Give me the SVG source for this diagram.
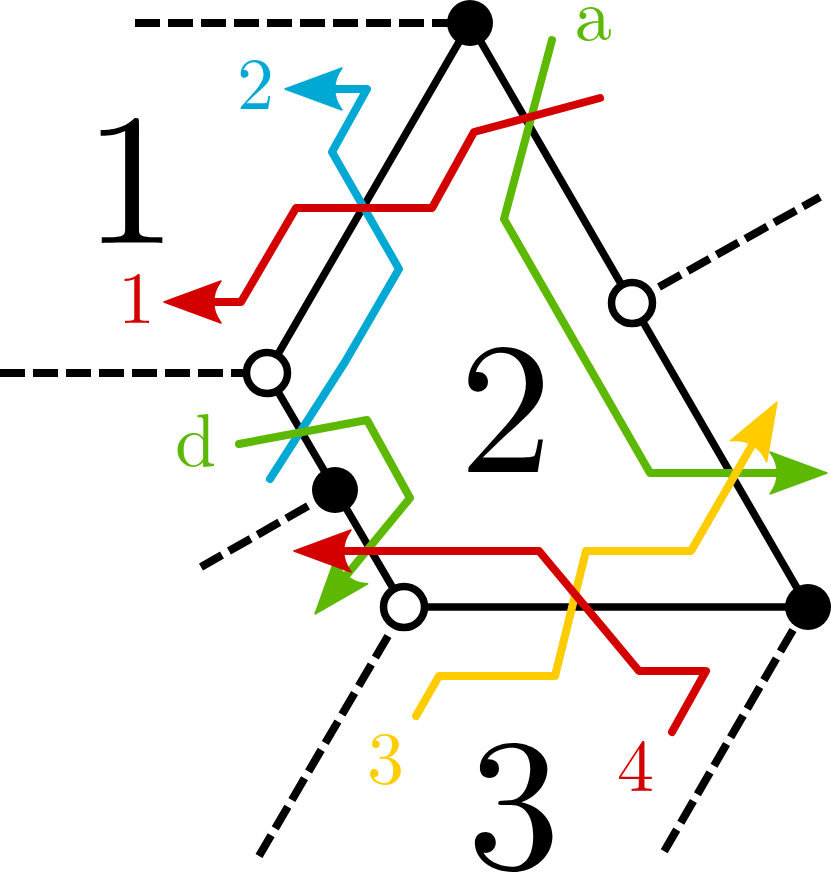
<svg xmlns="http://www.w3.org/2000/svg" width="831" height="872" viewBox="0 0 831 872">
<style>
.e{fill:none;stroke:#000;stroke-width:7.5}
.d{fill:none;stroke:#000;stroke-width:8;stroke-dasharray:25 8}
.p{fill:none;stroke-width:8;stroke-linejoin:round;stroke-linecap:round}
.o{fill:#fff;stroke:#000;stroke-width:7.5}
.b{fill:#000}
text{font-family:"Latin Modern Roman","Liberation Serif",serif}
.big{font-size:187px;fill:#000}
.sm{font-size:74px}
</style>
<defs>
<path id="h" d="M0 0L-57 -21Q-49 -10 -50 0Q-49 10 -57 21Z" stroke-width="1.5" stroke-linejoin="round"/>
</defs>
<rect width="831" height="872" fill="#fff"/>
<g id="connectors">
<path class="d" d="M135 23H470"/>
<path class="d" d="M0 373H267"/>
<path class="d" d="M659 287L820 197"/>
<path class="d" d="M308 506L201 567"/>
<path class="d" d="M388 636L259 856"/>
<path class="d" d="M793 630L662 855"/>
<path class="e" d="M470 23L808 607H404L267 373Z"/>
<path class="p" stroke="#00a9d4" d="M270 479L345 362L399 269L332 152L367 89H320"/>
<use href="#h" transform="translate(285 89) rotate(180)" fill="#00a9d4" stroke="#00a9d4"/>
<path class="p" stroke="#5cb800" d="M552 40L504 219L650 473H780"/>
<use href="#h" transform="translate(827 473)" fill="#5cb800" stroke="#5cb800"/>
<path class="p" stroke="#5cb800" d="M239 444L367 420L410 498L345 577"/>
<use href="#h" transform="translate(315 614) rotate(130)" fill="#5cb800" stroke="#5cb800"/>
<path class="p" stroke="#ffcc00" d="M416 716L439 676H555L586 551H691L755 440"/>
<use href="#h" transform="translate(777 402) rotate(-60)" fill="#ffcc00" stroke="#ffcc00"/>
<path class="p" stroke="#d40000" d="M600 98L474 132L432 208H296L241 302H200"/>
<use href="#h" transform="translate(164 302) rotate(180)" fill="#d40000" stroke="#d40000"/>
<path class="p" stroke="#d40000" d="M672 732L706 671H639L539 551H330"/>
<use href="#h" transform="translate(294 551) rotate(180)" fill="#d40000" stroke="#d40000"/>
</g>
<g id="node-top"><circle class="b" cx="470" cy="23" r="23"/></g>
<g id="node-left"><circle class="o" cx="267" cy="373" r="20.5"/></g>
<g id="node-right"><circle class="o" cx="632" cy="303" r="20.5"/></g>
<g id="node-mid"><circle class="b" cx="335" cy="490" r="23"/></g>
<g id="node-bl"><circle class="o" cx="404" cy="607" r="20.5"/></g>
<g id="node-br"><circle class="b" cx="808" cy="607" r="23"/></g>
<g id="labels">
<text class="big" x="84" y="243">1</text>
<text class="big" x="459" y="472">2</text>
<text class="big" x="467" y="868">3</text>
<text class="sm" x="237" y="109" fill="#00a9d4">2</text>
<text class="sm" x="118" y="323" fill="#d40000">1</text>
<text class="sm" x="175" y="466" fill="#5cb800">d</text>
<text class="sm" x="575" y="40" fill="#5cb800">a</text>
<text class="sm" x="367" y="783" fill="#ffcc00">3</text>
<text class="sm" x="617" y="791" fill="#d40000">4</text>
</g>
</svg>
